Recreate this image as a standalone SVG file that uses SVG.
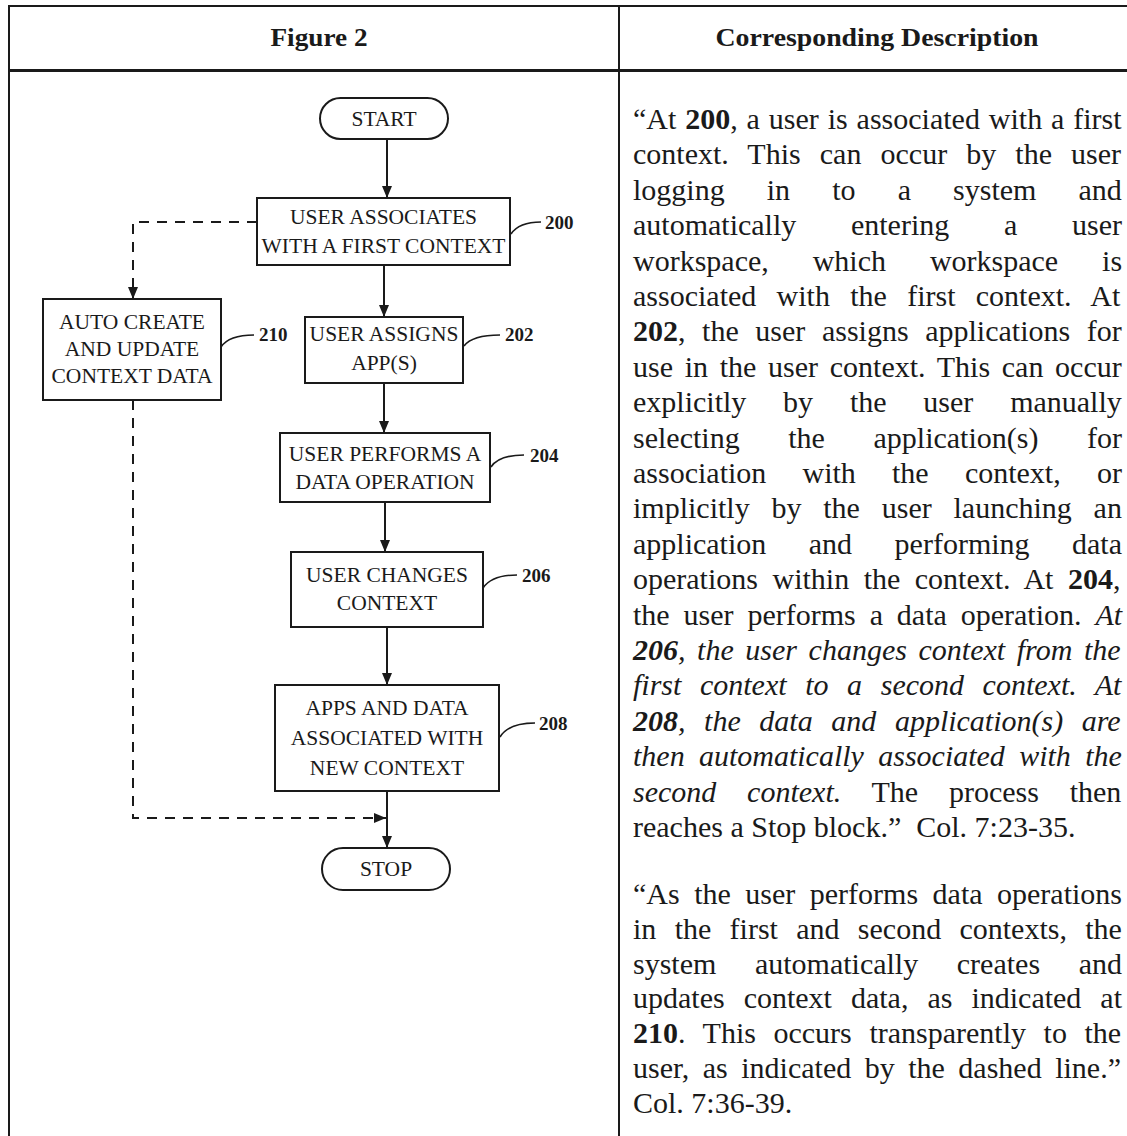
<svg xmlns="http://www.w3.org/2000/svg" width="1127" height="1136" viewBox="0 0 1127 1136">
<style>
.frame{stroke:#1a1a1a;stroke-width:2;fill:none}
.box{fill:#fff;stroke:#1a1a1a;stroke-width:2}
.t{font-family:"Liberation Serif","Times New Roman",serif;font-size:21.5px;text-anchor:middle;fill:#1a1a1a}
.lbl{font-family:"Liberation Serif","Times New Roman",serif;font-size:19px;font-weight:bold;fill:#1a1a1a}
.hdr{font-family:"Liberation Serif","Times New Roman",serif;font-size:26px;font-weight:bold;text-anchor:middle;fill:#1a1a1a}
.body{font-family:"Liberation Serif","Times New Roman",serif;font-size:30px;fill:#1a1a1a}
.b{font-weight:bold}
.i{font-style:italic}
.conn{stroke:#1a1a1a;stroke-width:2;fill:none}
.dash{stroke-dasharray:10 8}
.lead{stroke:#1a1a1a;stroke-width:1.6;fill:none}
</style>
<defs>
<marker id="arr" viewBox="0 0 12 10" refX="12" refY="5" markerWidth="12" markerHeight="10" markerUnits="userSpaceOnUse" orient="auto">
<path d="M0,0 L12,5 L0,10 z" fill="#1a1a1a"/>
</marker>
</defs>
<rect width="1127" height="1136" fill="#fff"/>
<g id="table">
<line class="frame" x1="9" y1="6" x2="1127" y2="6"/>
<line class="frame" x1="9" y1="5" x2="9" y2="1136"/>
<line class="frame" x1="619" y1="5" x2="619" y2="1136"/>
<line x1="9" y1="70.5" x2="1127" y2="70.5" stroke="#1a1a1a" stroke-width="3"/>
<text class="hdr" x="319" y="46" textLength="97" lengthAdjust="spacingAndGlyphs">Figure 2</text>
<text class="hdr" x="877" y="46" textLength="323" lengthAdjust="spacingAndGlyphs">Corresponding Description</text>
</g>
<g id="connectors">
<path class="conn" d="M387,139 V198" marker-end="url(#arr)"/>
<path class="conn" d="M384,265 V317" marker-end="url(#arr)"/>
<path class="conn" d="M384,383 V433" marker-end="url(#arr)"/>
<path class="conn" d="M385,502 V552" marker-end="url(#arr)"/>
<path class="conn" d="M387,627 V685" marker-end="url(#arr)"/>
<path class="conn" d="M387,791 V848" marker-end="url(#arr)"/>
<path class="conn dash" d="M257,222 H133 V299" marker-end="url(#arr)"/>
<path class="conn dash" d="M133,400 V818 H386" marker-end="url(#arr)"/>
<path class="lead" d="M511,234 C517,225 527,222 541,222"/>
<path class="lead" d="M464,346 C470,338 482,335 500,335"/>
<path class="lead" d="M491,467 C497,458 508,455 524,455"/>
<path class="lead" d="M483,588 C489,579 500,575 517,575"/>
<path class="lead" d="M500,737 C506,727 518,723 535,723"/>
<path class="lead" d="M221,347 C227,338 238,335 254,335"/>
</g>
<g id="start">
<rect class="box" x="320" y="98" width="128" height="41" rx="20.5"/>
<text class="t" x="384" y="126">START</text>
</g>
<g id="n200">
<rect class="box" x="257" y="198" width="253" height="67"/>
<text class="t" x="383.5" y="224">USER ASSOCIATES</text>
<text class="t" x="383.5" y="253">WITH A FIRST CONTEXT</text>
<text class="lbl" x="545" y="229">200</text>
</g>
<g id="n202">
<rect class="box" x="305" y="317" width="158" height="66"/>
<text class="t" x="384" y="341">USER ASSIGNS</text>
<text class="t" x="384" y="370">APP(S)</text>
<text class="lbl" x="505" y="341">202</text>
</g>
<g id="n204">
<rect class="box" x="280" y="433" width="210" height="69"/>
<text class="t" x="385" y="461">USER PERFORMS A</text>
<text class="t" x="385" y="489">DATA OPERATION</text>
<text class="lbl" x="530" y="462">204</text>
</g>
<g id="n206">
<rect class="box" x="291" y="552" width="192" height="75"/>
<text class="t" x="387" y="582">USER CHANGES</text>
<text class="t" x="387" y="610">CONTEXT</text>
<text class="lbl" x="522" y="582">206</text>
</g>
<g id="n208">
<rect class="box" x="275" y="685" width="224" height="106"/>
<text class="t" x="387" y="715">APPS AND DATA</text>
<text class="t" x="387" y="745">ASSOCIATED WITH</text>
<text class="t" x="387" y="775">NEW CONTEXT</text>
<text class="lbl" x="539" y="730">208</text>
</g>
<g id="n210">
<rect class="box" x="43" y="299" width="178" height="101"/>
<text class="t" x="132" y="329">AUTO CREATE</text>
<text class="t" x="132" y="356">AND UPDATE</text>
<text class="t" x="132" y="383">CONTEXT DATA</text>
<text class="lbl" x="259" y="341">210</text>
</g>
<g id="stop">
<rect class="box" x="322" y="848" width="128" height="42" rx="21"/>
<text class="t" x="386" y="876">STOP</text>
</g>
<g id="description" class="body">
<text x="633" y="129" word-spacing="1.4">“At <tspan class="b">200</tspan>, a user is associated with a first</text>
<text x="633" y="164.4" word-spacing="11.6">context. This can occur by the user</text>
<text x="633" y="199.8" word-spacing="34.6">logging in to a system and</text>
<text x="633" y="235.2" word-spacing="47.2">automatically entering a user</text>
<text x="633" y="270.6" word-spacing="36.4">workspace, which workspace is</text>
<text x="633" y="306" word-spacing="12.8">associated with the first context. At</text>
<text x="633" y="341.4" word-spacing="9.1"><tspan class="b">202</tspan>, the user assigns applications for</text>
<text x="633" y="376.8" word-spacing="4.2">use in the user context. This can occur</text>
<text x="633" y="412.2" word-spacing="29.3">explicitly by the user manually</text>
<text x="633" y="447.6" word-spacing="41.1">selecting the application(s) for</text>
<text x="633" y="483" word-spacing="28.7">association with the context, or</text>
<text x="633" y="518.4" word-spacing="14.3">implicitly by the user launching an</text>
<text x="633" y="553.8" word-spacing="35">application and performing data</text>
<text x="633" y="589.2" word-spacing="7">operations within the context. At <tspan class="b">204</tspan>,</text>
<text x="633" y="624.6" word-spacing="6.4">the user performs a data operation. <tspan class="i">At</tspan></text>
<text x="633" y="660" word-spacing="4.1" class="i"><tspan class="b">206</tspan>, the user changes context from the</text>
<text x="633" y="695.4" word-spacing="11.1" class="i">first context to a second context. At</text>
<text x="633" y="730.8" word-spacing="11.1" class="i"><tspan class="b">208</tspan>, the data and application(s) are</text>
<text x="633" y="766.2" word-spacing="6.8" class="i">then automatically associated with the</text>
<text x="633" y="801.6" word-spacing="23.3"><tspan class="i">second context.</tspan> The process then</text>
<text x="633" y="837">reaches a Stop block.”&#160; Col. 7:23-35.</text>
<text x="633" y="904" word-spacing="7">“As the user performs data operations</text>
<text x="633" y="938.8" word-spacing="10.8">in the first and second contexts, the</text>
<text x="633" y="973.6" word-spacing="31.1">system automatically creates and</text>
<text x="633" y="1008.4" word-spacing="11.5">updates context data, as indicated at</text>
<text x="633" y="1043.2" word-spacing="10.1"><tspan class="b">210</tspan>. This occurs transparently to the</text>
<text x="633" y="1078" word-spacing="6">user, as indicated by the dashed line.”</text>
<text x="633" y="1112.8">Col. 7:36-39.</text>
</g>
</svg>
